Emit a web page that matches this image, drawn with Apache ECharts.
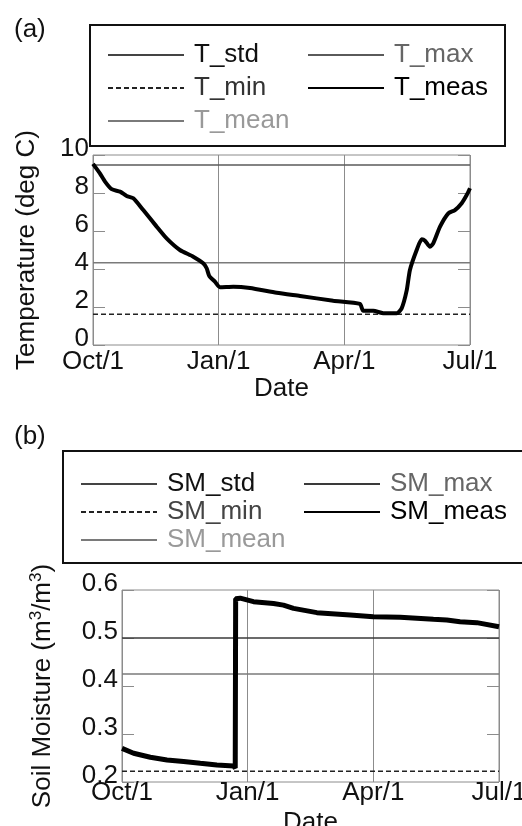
<!DOCTYPE html>
<html>
<head>
<meta charset="utf-8">
<script src="https://cdn.jsdelivr.net/npm/echarts@6/dist/echarts.min.js"></script>
<style>
html,body{margin:0;padding:0;background:#fff;}
#c{width:522px;height:826px;}
</style>
</head>
<body>
<div id="c"></div>
<script>
// ---- axis ticks (days since Oct/1) ----
const tickDays = [0, 91, 182, 273];
const tickLabels = ['Oct/1', 'Jan/1', 'Apr/1', 'Jul/1'];

// ---- panel (a): temperature ----
const tMeasDay = [0,5,8.7,13.5,19.6,24.4,29.2,36.4,46.1,53.3,62.9,72.6,79.8,82.3,84.2,88.3,91.9,101.6,113.7,133,149.9,174,193.3,195.7,203,210.2,219.9,223.5,227.2,229.5,234.4,238,240.4,244,246.4,251.3,257.3,262.1,267,270.6,273];
const tMeasVal = [9.53,9.03,8.6,8.2,8.07,7.84,7.72,7.1,6.23,5.61,5.0,4.65,4.3,4.04,3.63,3.33,3.04,3.07,3.0,2.75,2.58,2.33,2.16,1.8,1.8,1.67,1.67,1.93,2.89,3.95,5.0,5.56,5.49,5.17,5.35,6.23,6.93,7.1,7.46,7.89,8.25];
const tMax = [9.47];
const tMean = [4.33];
const tMin = [1.62];
const tStd = [];

// ---- panel (b): soil moisture ----
const smMeasDay = [0,8.4,20.5,32.6,44.6,56.7,68.7,80.8,82,82.3,85.6,95.2,109.7,116.9,124.2,141.1,165.2,182,201.4,225.5,235.2,244.8,256.9,273];
const smMeasVal = [0.270,0.260,0.2515,0.246,0.2427,0.239,0.2354,0.2333,0.229,0.582,0.583,0.5757,0.572,0.5685,0.5618,0.5528,0.548,0.5444,0.543,0.539,0.5375,0.534,0.532,0.5236];
const smMax = [0.50];
const smMean = [0.425];
const smMin = [0.2223];
const smStd = [];

const FONT = "'Liberation Sans', Arial, Helvetica, sans-serif";
const pair = (xs, ys) => xs.map((x, i) => [x, ys[i]]);
const hline = v => v.length ? [[tickDays[0], v[0]], [tickDays[tickDays.length - 1], v[0]]] : [];

const chart = echarts.init(document.getElementById('c'), null, {renderer: 'canvas'});

function xAxisFor(gi, margin, gap) {
  return {
    type: 'value', gridIndex: gi, min: 0, max: 273, interval: 91,
    axisLine: {show: false}, axisTick: {show: false},
    splitLine: {show: true, lineStyle: {color: '#8c8c8c', width: 1}},
    axisLabel: {
      fontSize: 26, color: '#111', fontFamily: FONT, margin: margin,
      formatter: v => { const i = tickDays.indexOf(v); return i >= 0 ? tickLabels[i] : ''; }
    },
    name: 'Date', nameLocation: 'middle', nameGap: gap,
    nameTextStyle: {fontSize: 26, color: '#111', fontFamily: FONT}
  };
}
function yAxisFor(gi, min, max, interval, pos, fmt, name, gap, rich) {
  const left = pos === 'left';
  return {
    type: 'value', gridIndex: gi, min, max, interval, position: pos,
    axisLine: {show: false},
    axisTick: {show: true, inside: true, length: 12, lineStyle: {color: '#8c8c8c'}},
    splitLine: {show: false},
    axisLabel: left ? {fontSize: 26, color: '#111', fontFamily: FONT, margin: 4, formatter: fmt,
                       verticalAlign: 'bottom', lineHeight: 12} : {show: false},
    name: left ? name : '', nameLocation: 'middle', nameGap: gap,
    nameTextStyle: Object.assign({fontSize: 26, color: '#111', fontFamily: FONT}, rich ? {rich} : {})
  };
}

const legendText = c => ({fontSize: 26, color: c, fontFamily: FONT, lineHeight: 30, padding: [0, 0, 0, 5]});

function legendCol(names, colors, left, top, gap) {
  return {
    orient: 'vertical', left, top, padding: 0, itemGap: gap, itemWidth: 76, itemHeight: 14,
    selectedMode: false,
    itemStyle: {opacity: 0},
    data: names.map((n, i) => ({name: n, textStyle: legendText(colors[i])})),
    textStyle: legendText('#111')
  };
}

const option = {
  backgroundColor: '#ffffff',
  animation: false,
  textStyle: {fontFamily: FONT},
  grid: [
    {left: 93, top: 155, width: 377, height: 190, show: true, borderColor: '#8c8c8c', borderWidth: 1,
     containLabel: false, outerBoundsMode: 'none'},
    {left: 122, top: 590, width: 377, height: 192, show: true, borderColor: '#8c8c8c', borderWidth: 1,
     containLabel: false, outerBoundsMode: 'none'}
  ],
  xAxis: [xAxisFor(0, 4, 24), xAxisFor(1, -2, 28)],
  yAxis: [
    yAxisFor(0, 0, 10, 2, 'left', v => String(v), 'Temperature (deg C)', 53),
    yAxisFor(0, 0, 10, 2, 'right'),
    yAxisFor(1, 0.2, 0.6, 0.1, 'left', v => v.toFixed(1), 'Soil Moisture (m{sup|3}/m{sup|3})', 65,
      {sup: {fontSize: 17, fontFamily: FONT, color: '#111', verticalAlign: 'top', padding: [0, 0, 12, 0]}}),
    yAxisFor(1, 0.2, 0.6, 0.1, 'right')
  ],
  legend: [
    legendCol(['T_std', 'T_min', 'T_mean'], ['#111', '#333', '#999'], 107, 40, 3),
    legendCol(['T_max', 'T_meas'], ['#666', '#000'], 307, 40, 3),
    legendCol(['SM_std', 'SM_min', 'SM_mean'], ['#111', '#444', '#999'], 80, 469, -2),
    legendCol(['SM_max', 'SM_meas'], ['#666', '#000'], 303, 469, -2)
  ],
  graphic: [
    {type: 'rect', shape: {x: 90, y: 25, width: 415, height: 121}, style: {fill: 'none', stroke: '#111', lineWidth: 2}, z: 0},
    {type: 'rect', shape: {x: 63, y: 451, width: 470, height: 112}, style: {fill: 'none', stroke: '#111', lineWidth: 2}, z: 0},
    {type: 'text', left: 14, top: 17, style: {text: '(a)', fontSize: 26, fontFamily: FONT, fill: '#111'}},
    {type: 'text', left: 14, top: 424, style: {text: '(b)', fontSize: 26, fontFamily: FONT, fill: '#111'}}
  ],
  series: [
    {name: 'T_std', type: 'line', xAxisIndex: 0, yAxisIndex: 0, showSymbol: false, symbol: 'none', data: hline(tStd),
     lineStyle: {color: '#444', width: 1}, itemStyle: {color: '#444'}},
    {name: 'T_max', type: 'line', xAxisIndex: 0, yAxisIndex: 0, showSymbol: false, symbol: 'none', data: hline(tMax),
     lineStyle: {color: '#5a5a5a', width: 1.5}, itemStyle: {color: '#5a5a5a'}},
    {name: 'T_min', type: 'line', xAxisIndex: 0, yAxisIndex: 0, showSymbol: false, symbol: 'none', data: hline(tMin),
     lineStyle: {color: '#222', width: 1.5, type: [5, 3]}, itemStyle: {color: '#222'}},
    {name: 'T_mean', type: 'line', xAxisIndex: 0, yAxisIndex: 0, showSymbol: false, symbol: 'none', data: hline(tMean),
     lineStyle: {color: '#7a7a7a', width: 1.5}, itemStyle: {color: '#7a7a7a'}},
    {name: 'T_meas', type: 'line', xAxisIndex: 0, yAxisIndex: 0, showSymbol: false, symbol: 'none', smooth: 0.2,
     data: pair(tMeasDay, tMeasVal), lineStyle: {color: '#000', width: 4}, itemStyle: {color: '#000'}, z: 5},

    {name: 'SM_std', type: 'line', xAxisIndex: 1, yAxisIndex: 2, showSymbol: false, symbol: 'none', data: hline(smStd),
     lineStyle: {color: '#444', width: 1}, itemStyle: {color: '#444'}},
    {name: 'SM_max', type: 'line', xAxisIndex: 1, yAxisIndex: 2, showSymbol: false, symbol: 'none', data: hline(smMax),
     lineStyle: {color: '#3a3a3a', width: 1.5}, itemStyle: {color: '#3a3a3a'}},
    {name: 'SM_min', type: 'line', xAxisIndex: 1, yAxisIndex: 2, showSymbol: false, symbol: 'none', data: hline(smMin),
     lineStyle: {color: '#222', width: 1.5, type: [5, 3]}, itemStyle: {color: '#222'}},
    {name: 'SM_mean', type: 'line', xAxisIndex: 1, yAxisIndex: 2, showSymbol: false, symbol: 'none', data: hline(smMean),
     lineStyle: {color: '#7a7a7a', width: 1.5}, itemStyle: {color: '#7a7a7a'}},
    {name: 'SM_meas', type: 'line', xAxisIndex: 1, yAxisIndex: 2, showSymbol: false, symbol: 'none',
     data: pair(smMeasDay, smMeasVal), lineStyle: {color: '#000', width: 5}, itemStyle: {color: '#000'}, z: 5}
  ]
};
chart.setOption(option);
</script>
</body>
</html>
